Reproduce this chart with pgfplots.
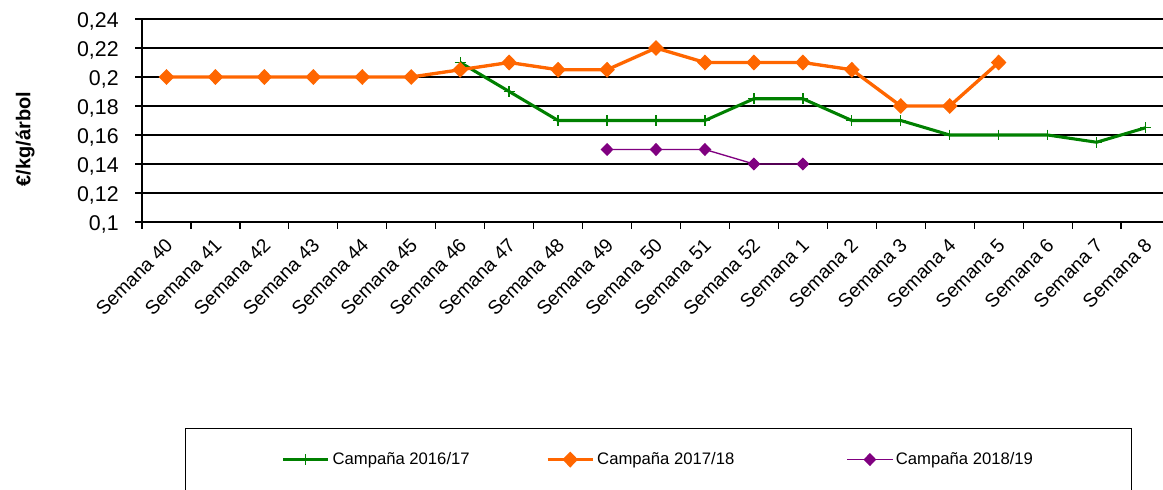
\documentclass[border=0pt]{standalone}
\usepackage{fontspec}
\setmainfont{Liberation Sans}
\usepackage{pgfplots}
\pgfplotsset{compat=1.18}
\definecolor{cgreen}{RGB}{0,128,0}
\definecolor{corange}{RGB}{255,102,0}
\definecolor{cpurple}{RGB}{128,0,128}
\begin{document}
\begin{tikzpicture}
\useasboundingbox (0,0) rectangle (872.25pt,366.75pt);
\begin{axis}[
  at={(106.5pt,200.25pt)}, anchor=south west,
  scale only axis, width=765.5pt, height=152.25pt,
  xmin=-0.5, xmax=20.35, ymin=0.1, ymax=0.24,
  axis lines*=left,
  axis line style={-, line width=0.9pt, black},
  ytick={0.1,0.12,0.14,0.16,0.18,0.2,0.22,0.24},
  ymajorgrids, grid style={black, line width=0.9pt},
  xtick={0,...,20},
  xticklabels={Semana 40,Semana 41,Semana 42,Semana 43,Semana 44,Semana 45,Semana 46,Semana 47,Semana 48,Semana 49,Semana 50,Semana 51,Semana 52,Semana 1,Semana 2,Semana 3,Semana 4,Semana 5,Semana 6,Semana 7,Semana 8},
  minor xtick={-0.5,0.5,...,19.5},
  major x tick style={draw=none},
  tick align=outside,
  major tick length=5pt, minor tick length=5pt,
  tick style={black, line width=0.9pt},
  /pgf/number format/.cd, use comma, fixed, precision=2, assume math mode=true,
  /pgfplots/.cd,
  yticklabel style={font=\fontsize{16}{18}\selectfont, xshift=-9pt, yshift=-1.5pt},
  xticklabel style={font=\fontsize{14.5}{17}\selectfont, xshift=4.5pt, yshift=-7.5pt, rotate=45, anchor=east},
  ylabel={\bfseries €/kg/árbol},
  ylabel style={at={(axis description cs:-0.1146,0.409)}, anchor=center, font=\fontsize{15}{18}\selectfont},
  legend columns=3,
  legend cell align=left,
  legend style={at={(axis description cs:0.0421,-1.0148)}, anchor=north west,
    draw=black, line width=0.8pt, inner xsep=72pt, inner ysep=16pt,
    font=\fontsize{12.5}{15}\selectfont},
  legend image code/.code={\draw[mark repeat=2,mark phase=2] plot coordinates {(0pt,0pt)(17pt,0pt)(34pt,0pt)};},
]
\addplot[cgreen, line width=2.3pt, mark=+, mark size=4.1pt, mark options={line width=1pt}]
coordinates {(6,0.21)(7,0.19)(8,0.17)(9,0.17)(10,0.17)(11,0.17)(12,0.185)(13,0.185)(14,0.17)(15,0.17)(16,0.16)(17,0.16)(18,0.16)(19,0.155)(20,0.165)};
\addlegendentry{\makebox[158pt][l]{Campaña 2016/17}}
\addplot[corange, line width=2.5pt, mark=diamond*, mark size=4.2pt, mark options={xscale=1.3}]
coordinates {(0,0.2)(1,0.2)(2,0.2)(3,0.2)(4,0.2)(5,0.2)(6,0.205)(7,0.21)(8,0.205)(9,0.205)(10,0.22)(11,0.21)(12,0.21)(13,0.21)(14,0.205)(15,0.18)(16,0.18)(17,0.21)};
\addlegendentry{\makebox[185pt][l]{Campaña 2017/18}}
\addplot[cpurple, line width=1pt, mark=diamond*, mark size=4.2pt, mark options={xscale=1.3}]
coordinates {(9,0.15)(10,0.15)(11,0.15)(12,0.14)(13,0.14)};
\addlegendentry{Campaña 2018/19}
\end{axis}
\end{tikzpicture}
\end{document}
